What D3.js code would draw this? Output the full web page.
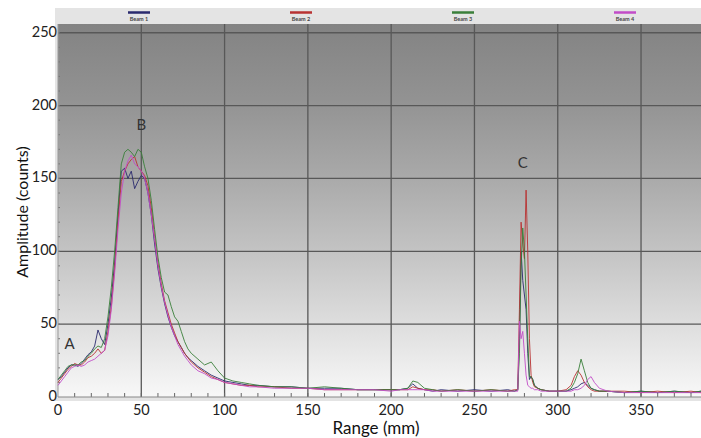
<!DOCTYPE html>
<html><head><meta charset="utf-8">
<script src="https://cdn.jsdelivr.net/npm/d3@7"></script>
<style>body{margin:0;background:#fff}svg{display:block}text{font-family:Lato,"Open Sans",sans-serif}</style>
</head><body><svg id="c" width="701" height="438"></svg>
<script>
const rangeMm = [0,2,4,6,8,10,12,14,16,18,20,22,24,26,28,30,32,34,36,38,
 40,42,44,46,48,50,52,54,56,58,60,62,64,66,68,70,72,74,76,78,80,
 84,88,92,96,100, 105,110,115,120, 130,140,150,160,170,180,190,200,
 205,210,213,216,220,225,230, 240,250,260,270,274,276,
 277,278,279,280,281,282,283,284,285,286, 288,290,295,300,305,308,
 310,312,314,316,318,320,322,325,330, 340,350,360,370,380,386];
const beam1 = [12,14,17,20,22,22,21,23,26,29,31,35,46,40,36,50,68,92,125,155,
 157,150,155,143,148,152,150,140,125,105,88,75,64,55,48,42,38,34,30,27,25,
 21,18,15,13,11, 10,9,8,8, 7,7,6,6,6,5,5,5, 5,6,9,6,5,4,5, 4,5,4,5,4,5,
 40,100,80,70,60,30,12,14,12,8, 6,5,4,4,4,5, 6,7,9,10,8,6,5,4,4, 3,4,3,4,3,4];
const beam2 = [10,13,16,19,21,23,22,22,24,27,28,30,33,30,32,45,62,88,120,148,
 155,160,163,165,158,155,152,145,130,110,92,78,66,58,50,44,38,34,30,27,24,
 20,17,14,12,10, 9,8,8,7, 7,6,6,5,5,5,5,5, 5,5,7,6,5,5,4, 5,4,5,4,5,5,
 60,120,105,95,142,100,40,15,10,7, 6,5,4,4,5,8, 14,18,15,10,7,5,4,4,4, 4,3,4,3,4,3];
const beam3 = [12,15,18,21,22,22,22,24,25,28,30,33,35,34,40,55,75,100,130,160,
 168,170,168,165,170,168,158,150,135,115,96,82,72,70,62,55,52,45,38,33,30,
 26,22,24,18,13, 11,10,9,8, 7,7,6,7,6,5,5,5, 5,6,11,10,6,5,4, 5,4,5,4,4,5,
 30,90,116,100,70,40,14,14,12,8, 6,5,4,4,4,6, 10,16,26,18,10,6,5,4,4, 3,4,3,4,3,4];
const beam4 = [8,11,14,17,20,21,22,21,22,24,25,26,28,30,32,42,60,85,115,140,
 155,162,166,160,158,155,150,140,125,108,90,76,65,56,48,42,36,32,28,25,22,
 18,16,13,12,10, 9,8,7,7, 6,6,6,5,5,5,5,4, 5,5,5,5,5,4,4, 4,4,4,4,4,4,
 52,40,45,30,15,8,7,6,6,5, 5,4,4,4,4,4, 5,5,6,8,12,14,10,6,4, 3,3,3,3,3,3];
const seriesNames = ["Beam 1","Beam 2","Beam 3","Beam 4"];
const seriesColors = ["#2a2a6e","#b83232","#3a7f3a","#c24cc8"];
const xTicks = [0,50,100,150,200,250,300,350];
const yTicks = [0,50,100,150,200,250];
const annotations = [{t:"A",x:7,y:33},{t:"B",x:50,y:183},{t:"C",x:279,y:157}];

const svg = d3.select("#c");
const L=58, R=701, T=24, B=397;
const x = d3.scaleLinear().domain([0,386]).range([L,R]);
const y = d3.scaleLinear().domain([0,256]).range([B,T]);

// frame
svg.append("rect").attr("x",55).attr("y",8).attr("width",646).attr("height",393).attr("fill","#e4e4e4");
const defs = svg.append("defs");
const g = defs.append("linearGradient").attr("id","bg").attr("x1",0).attr("y1",0).attr("x2",0).attr("y2",1);
[[0,"#838383"],[0.2,"#929292"],[0.4,"#a8a8a8"],[0.6,"#c2c2c2"],[0.8,"#dddddd"],[1,"#f8f8f8"]].forEach(s=>g.append("stop").attr("offset",s[0]).attr("stop-color",s[1]));
svg.append("rect").attr("x",L).attr("y",T).attr("width",R-L).attr("height",B-T).attr("fill","url(#bg)");

// grid
svg.append("g").selectAll("line").data(xTicks.filter(d=>d>0)).join("line")
 .attr("x1",d=>x(d)).attr("x2",d=>x(d)).attr("y1",T).attr("y2",B).attr("stroke","#585858").attr("stroke-width",1.3);
svg.append("g").selectAll("line").data(yTicks.filter(d=>d>0)).join("line")
 .attr("y1",d=>y(d)).attr("y2",d=>y(d)).attr("x1",L).attr("x2",R).attr("stroke","#585858").attr("stroke-width",1.3);

// minor ticks
svg.append("g").selectAll("line").data(d3.range(10,386,10)).join("line")
 .attr("x1",d=>x(d)).attr("x2",d=>x(d)).attr("y1",B).attr("y2",B-4).attr("stroke","#666");
svg.append("g").selectAll("line").data(d3.range(10,256,10)).join("line")
 .attr("y1",d=>y(d)).attr("y2",d=>y(d)).attr("x1",L).attr("x2",L+2).attr("stroke","#777");

// axes lines
svg.append("line").attr("x1",L).attr("x2",R).attr("y1",B).attr("y2",B).attr("stroke","#888");
svg.append("line").attr("x1",L).attr("x2",L).attr("y1",T).attr("y2",B).attr("stroke","#999");

// series
const line = d3.line().x((d,i)=>x(rangeMm[i])).y(d=>y(d));
[beam1,beam2,beam3,beam4].forEach((s,k)=>{
  svg.append("path").attr("d",line(s)).attr("fill","none").attr("stroke",seriesColors[k]).attr("stroke-width",1).attr("stroke-opacity",0.9);
});

// tick labels
svg.append("g").selectAll("text").data(yTicks).join("text")
 .attr("x",L-1).attr("y",d=>y(d)+4).attr("text-anchor","end").attr("font-size",14.5).attr("fill","#222").text(d=>d);
svg.append("g").selectAll("text").data(xTicks).join("text")
 .attr("x",d=>x(d)).attr("y",415).attr("text-anchor","middle").attr("font-size",14.5).attr("fill","#222").text(d=>d);

// titles
svg.append("text").attr("x",376).attr("y",434).attr("text-anchor","middle").attr("font-size",17).attr("fill","#111").text("Range (mm)");
svg.append("text").attr("transform","translate(28,212) rotate(-90)").attr("text-anchor","middle").attr("font-size",16).attr("fill","#111").text("Amplitude (counts)");

// annotations
svg.append("g").selectAll("text").data(annotations).join("text")
 .attr("x",d=>x(d.x)).attr("y",d=>y(d.y)).attr("text-anchor","middle").attr("font-size",15).attr("fill","#333").text(d=>d.t);

// legend
const legX = [139,301,463,625];
const lg = svg.append("g").selectAll("g").data(seriesNames).join("g").attr("transform",(d,i)=>`translate(${legX[i]},0)`);
lg.append("line").attr("x1",-11).attr("x2",11).attr("y1",12.5).attr("y2",12.5).attr("stroke",(d,i)=>seriesColors[i]).attr("stroke-width",2.5);
lg.append("text").attr("y",21).attr("text-anchor","middle").attr("font-size",5.5).attr("font-weight","bold").attr("fill","#444").text(d=>d);
</script></body></html>
